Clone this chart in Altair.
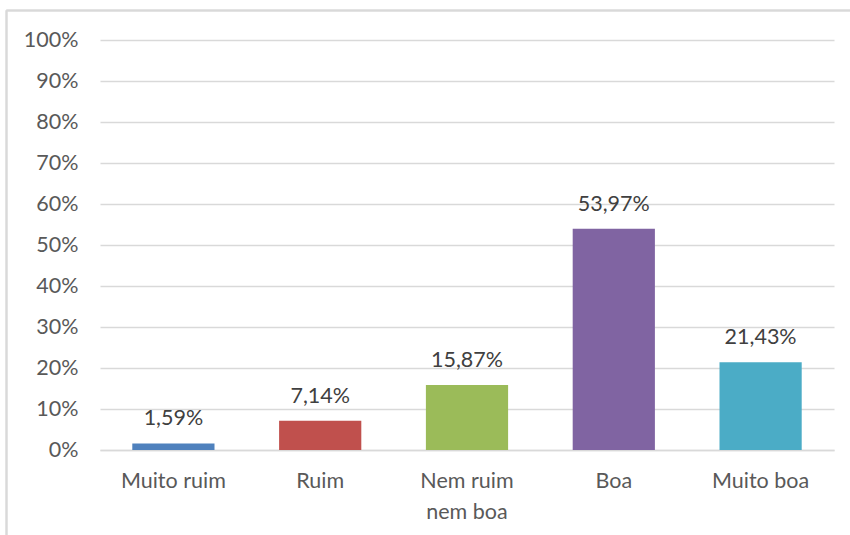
import altair as alt
import pandas as pd

categories = ["Muito ruim", "Ruim", "Nem ruim nem boa", "Boa", "Muito boa"]
percentages = [1.59, 7.14, 15.87, 53.97, 21.43]
colors = ["#4f81bd", "#c0504d", "#9bbb59", "#8064a2", "#4bacc6"]
y_ticks = [0, 10, 20, 30, 40, 50, 60, 70, 80, 90, 100]

df = pd.DataFrame({
    "categoria": categories,
    "valor": [p / 100 for p in percentages],
    "rotulo": [f"{p:.2f}".replace(".", ",") + "%" for p in percentages],
})

FONT = "Lato"
GRAY = "#595959"
LINE = "#d9d9d9"
SIZE = 21.5

x_enc = alt.X(
    "categoria:N",
    sort=categories,
    scale=alt.Scale(paddingInner=0.44, paddingOuter=0.22),
    axis=alt.Axis(
        title=None,
        labelAngle=0,
        ticks=False,
        domain=True,
        domainColor=LINE,
        domainWidth=1.5,
        labelFont=FONT,
        labelFontSize=SIZE,
        labelColor=GRAY,
        labelPadding=20,
        labelLineHeight=31,
        labelExpr="datum.label == 'Nem ruim nem boa' ? ['Nem ruim', 'nem boa'] : datum.label",
    ),
)

y_enc = alt.Y(
    "valor:Q",
    scale=alt.Scale(domain=[0, 1]),
    axis=alt.Axis(
        title=None,
        values=[t / 100 for t in y_ticks],
        format=".0%",
        ticks=False,
        domain=False,
        grid=True,
        gridColor=LINE,
        gridWidth=1.5,
        labelFont=FONT,
        labelFontSize=SIZE,
        labelColor=GRAY,
        labelPadding=22,
    ),
)

bars = alt.Chart(df).mark_bar().encode(
    x=x_enc,
    y=y_enc,
    color=alt.Color("categoria:N", sort=categories,
                    scale=alt.Scale(domain=categories, range=colors), legend=None),
)

labels = alt.Chart(df).mark_text(
    font=FONT, fontSize=SIZE, color="#404040", baseline="alphabetic", dy=-18
).encode(
    x=alt.X("categoria:N", sort=categories),
    y="valor:Q",
    text="rotulo:N",
)

# chart frame: left and top edges
frame_left = alt.Chart(df).mark_rule(color=LINE, strokeWidth=1.5).encode(
    x=alt.value(-93.5), y=alt.value(-29.5), y2=alt.value(500)
)
frame_top = alt.Chart(df).mark_rule(color=LINE, strokeWidth=1.5).encode(
    x=alt.value(-93.5), x2=alt.value(760), y=alt.value(-29.5)
)

chart = (
    alt.layer(frame_left, frame_top, bars, labels)
    .properties(
        width=734,
        height=410,
        autosize=alt.AutoSizeParams(type="none"),
        padding={"left": 100, "top": 40, "right": 16, "bottom": 85},
        background="white",
    )
    .configure_view(stroke=None)
)

chart.save("out.html", embed_options={"renderer": "svg", "actions": False})
